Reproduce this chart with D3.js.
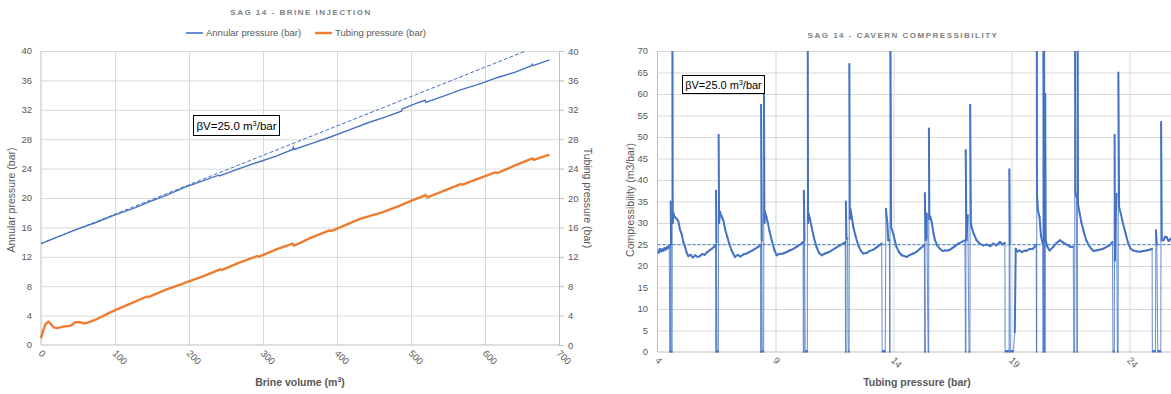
<!DOCTYPE html>
<html>
<head>
<meta charset="utf-8">
<script src="https://cdn.jsdelivr.net/npm/d3@7"></script>
<style>
  body { margin: 0; background: #fff; }
  text { font-family: "Liberation Sans", Arial, sans-serif; fill: #595959; }
</style>
</head>
<body>
<svg id="chart" width="1171" height="394"></svg>
<script>
// ---- left chart: brine injection ----
const volTicks = [0, 100, 200, 300, 400, 500, 600, 700];
const presTicks = [0, 4, 8, 12, 16, 20, 24, 28, 32, 36, 40];

const annularVol = [0, 25, 50, 75, 100, 125, 147, 170, 193, 215, 240, 241, 265, 294, 318, 340, 341, 342, 365, 391, 415, 441, 465, 487, 488, 505, 519, 520, 545, 567, 592, 617, 640, 663, 664, 665, 687];
const annularP = [13.8, 14.8, 15.8, 16.7, 17.7, 18.6, 19.5, 20.4, 21.4, 22.2, 23.1, 23.0, 23.9, 24.9, 25.7, 26.6, 26.9, 26.6, 27.4, 28.3, 29.2, 30.2, 31.0, 31.8, 32.1, 32.8, 33.3, 33.0, 33.9, 34.7, 35.5, 36.4, 37.1, 38.0, 38.2, 38.0, 38.8];

const tubingVol = [0, 3, 6, 10, 13, 17, 22, 30, 39, 43, 46, 53, 57, 62, 75, 93, 102, 120, 143, 145, 168, 193, 195, 218, 242, 244, 268, 292, 294, 318, 340, 342, 365, 390, 392, 432, 460, 486, 488, 505, 520, 522, 545, 567, 569, 590, 614, 617, 640, 664, 666, 687];
const tubingP = [0.9, 2.0, 2.8, 3.2, 2.9, 2.4, 2.3, 2.5, 2.6, 2.8, 3.1, 3.1, 2.95, 3.0, 3.5, 4.4, 4.8, 5.6, 6.6, 6.5, 7.5, 8.4, 8.5, 9.3, 10.3, 10.2, 11.2, 12.1, 12.0, 13.0, 13.8, 13.5, 14.6, 15.6, 15.5, 17.2, 18.0, 19.0, 19.1, 19.8, 20.4, 20.1, 21.0, 21.9, 21.8, 22.6, 23.5, 23.4, 24.4, 25.4, 25.2, 25.9];

// theoretical line for betaV = 25 m3/bar
const fitVol = [0, 655];
const fitP = [13.8, 40];

// ---- right chart: cavern compressibility ----
const tpTicks = [4, 9, 14, 19, 24];
const compTicks = [0, 5, 10, 15, 20, 25, 30, 35, 40, 45, 50, 55, 60, 65, 70];
const betaV = 25;

const compP = [
  4.00, 4.05, 4.10, 4.15, 4.20, 4.25, 4.30, 4.35, 4.40, 4.45, 4.50,
  4.52, 4.55, 4.56, 4.575, 4.58, 4.62, 4.63, 4.645, 4.67, 4.72, 4.80, 4.88, 4.95, 5.02, 5.10, 5.17, 5.24, 5.31, 5.40, 5.50, 5.60, 5.70, 5.80, 5.90, 6.00, 6.08, 6.20, 6.30, 6.40, 6.46,
  6.47, 6.49, 6.48, 6.50, 6.52, 6.58, 6.59, 6.61, 6.65, 6.72, 6.79, 6.87, 6.96, 7.05, 7.14, 7.28, 7.40, 7.50, 7.65, 7.78, 7.90, 8.02, 8.13, 8.25, 8.37,
  8.37, 8.40, 8.39, 8.42, 8.44, 8.50, 8.51, 8.53, 8.55, 8.61, 8.67, 8.75, 8.84, 8.95, 9.05, 9.15, 9.33, 9.45, 9.60, 9.76, 9.90, 10.05, 10.17,
  10.18, 10.21, 10.20, 10.23, 10.26, 10.35, 10.36, 10.38, 10.40, 10.46, 10.53, 10.63, 10.74, 10.85, 10.96, 11.10, 11.25, 11.38, 11.55, 11.73, 11.90, 11.96,
  11.97, 11.99, 11.98, 12.01, 12.05, 12.08, 12.12, 12.13, 12.15, 12.17, 12.23, 12.30, 12.40, 12.51, 12.62, 12.72, 12.85, 13.00, 13.15, 13.30, 13.42, 13.50,
  13.52, 13.65, 13.68, 13.74, 13.78, 13.83, 13.84, 13.85, 13.86, 13.90, 13.99, 14.06, 14.13, 14.24, 14.35, 14.46, 14.56, 14.70, 14.84, 14.98, 15.12, 15.25, 15.31,
  15.32, 15.35, 15.33, 15.36, 15.40, 15.41, 15.47, 15.49, 15.50, 15.52, 15.56, 15.62, 15.70, 15.76, 15.85, 15.97, 16.08, 16.18, 16.30, 16.40, 16.55, 16.65, 16.75, 16.90, 17.03,
  17.05, 17.07, 17.06, 17.09, 17.15, 17.20, 17.24, 17.25, 17.28, 17.31, 17.40, 17.52, 17.65, 17.81, 17.95, 18.10, 18.23, 18.35, 18.51, 18.62, 18.72,
  18.73, 18.90, 18.91, 18.93, 18.95, 19.08, 19.14, 19.18, 19.25, 19.35, 19.45, 19.55, 19.63, 19.75, 19.91, 20.00, 20.05,
  20.06, 20.07, 20.07, 20.08, 20.12, 20.19, 20.25, 20.33, 20.34, 20.35, 20.37, 20.39, 20.40, 20.42, 20.43, 20.45, 20.52, 20.62, 20.76, 20.90, 21.05, 21.18, 21.33, 21.45, 21.54, 21.62,
  21.64, 21.68, 21.69, 21.71, 21.75, 21.78, 21.79, 21.80, 21.82, 21.88, 21.96, 22.06, 22.17, 22.28, 22.38, 22.48, 22.59, 22.73, 22.88, 23.02, 23.16, 23.28,
  23.30, 23.36, 23.37, 23.38, 23.40, 23.45, 23.49, 23.52, 23.53, 23.56, 23.64, 23.73, 23.84, 23.95, 24.05, 24.16, 24.30, 24.44, 24.58, 24.72, 24.86, 24.96,
  24.97, 25.10, 25.12, 25.16, 25.20, 25.33, 25.34, 25.37, 25.44, 25.51, 25.58, 25.66, 25.76, 25.80
];
const compV = [
  23.6, 23.1, 24.0, 23.4, 23.9, 23.5, 24.2, 23.8, 24.4, 24.1, 24.7,
  0, 0, 35, 25, 0, 0, 95, 30, 32.3, 31.5, 31.0, 30.5, 28.5, 27.5, 25.5, 24.4, 23.0, 22.3, 22.6, 22.0, 22.5, 22.1, 22.3, 22.8, 22.6, 23.1, 23.6, 24.0, 24.5, 24.8,
  0, 0, 37.5, 25.5, 0, 0, 50.5, 30, 32.6, 31.5, 30.6, 28.5, 26.7, 25.0, 23.6, 22.1, 22.6, 22.2, 22.7, 22.9, 23.3, 23.6, 24.0, 24.4, 24.8,
  0, 0, 57.5, 26, 0, 0, 62, 30, 32.6, 31.5, 30.2, 28, 26.0, 23.8, 22.5, 22.8, 22.9, 23.2, 23.6, 24.0, 24.5, 25.0, 25.6,
  0, 0, 37.5, 26, 0, 0, 95, 30, 32.2, 31, 29.1, 26.5, 24.4, 23.0, 22.5, 22.9, 23.2, 23.6, 24.2, 24.8, 25.3, 25.6,
  0, 0, 35, 26.4, 26.4, 0, 0, 67, 31, 33.3, 31.5, 29, 26.8, 24.8, 23.5, 22.9, 23.0, 23.5, 23.8, 24.4, 24.9, 25.2,
  0, 0, 33.3, 30, 26, 26, 0, 0, 95, 29, 27.5, 25.8, 24.4, 23.2, 22.5, 22.3, 22.1, 22.6, 22.9, 23.3, 24.0, 24.6, 25.0,
  0, 0, 37, 26, 26.5, 32.2, 0, 0, 52, 31, 31.5, 30.2, 27.5, 26.0, 24.8, 24.0, 23.5, 23.6, 23.6, 23.8, 24.4, 24.8, 25.2, 25.6, 26.0,
  0, 0, 47, 26, 31.8, 0, 0, 57.5, 30, 29, 27.5, 26.0, 25.2, 24.8, 25.0, 24.6, 25.2, 24.8, 25.6, 25.0, 25.4,
  0, 0, 42.5, 25, 0, 0, 4.6, 24.0, 23.4, 23.6, 23.2, 23.6, 23.5, 23.9, 24.0, 24.6, 25.0,
  0, 0, 95, 36.8, 33, 31.4, 27, 25, 0, 95, 26, 0, 95, 0, 60, 26, 24.5, 23.6, 24.4, 25.3, 26.0, 25.5, 25.0, 24.6, 24.4, 24.5,
  0, 0, 95, 37.2, 36, 0, 0, 95, 34.5, 32.5, 30.2, 28, 26, 24.8, 24, 23.5, 23.6, 23.8, 24.0, 24.4, 24.8, 25.6,
  0, 0, 50.5, 21.3, 30, 36.8, 0, 0, 65, 33.7, 32, 29.8, 27.5, 25.2, 24, 23.6, 23.4, 23.3, 23.5, 23.6, 23.8, 24.0,
  0, 0, 28.3, 25, 0, 0, 53.5, 26, 26.0, 26.8, 26.7, 25.8, 26.4, 26.2
];

const blue = "#4472C4", orange = "#ED7D31", grid = "#d9d9d9", axisCol = "#bfbfbf";

let svg = d3.select("#chart");

// ================= LEFT =================
let xL = d3.scaleLinear().domain([0, 700]).range([41, 559]);
let yL = d3.scaleLinear().domain([0, 40]).range([345, 51]);

let gL = svg.append("g");

gL.append("g")
  .attr("transform", "translate(0,345)")
  .call(d3.axisBottom(xL).tickValues(volTicks.slice(1)).tickSize(-294).tickFormat(""))
  .call(g => g.select(".domain").remove())
  .selectAll("line").style("stroke", grid);

gL.append("g")
  .attr("transform", "translate(41,0)")
  .call(d3.axisLeft(yL).tickValues(presTicks.slice(1)).tickSize(-518).tickFormat(""))
  .call(g => g.select(".domain").remove())
  .selectAll("line").style("stroke", grid);

gL.append("line").attr("x1", 41).attr("x2", 559).attr("y1", 345).attr("y2", 345).style("stroke", axisCol);
gL.append("line").attr("x1", 41).attr("x2", 41).attr("y1", 51).attr("y2", 345).style("stroke", axisCol);

// right axis (tubing pressure, same scale)
gL.append("g")
  .attr("transform", "translate(559,0)")
  .call(d3.axisRight(yL).tickValues(presTicks).tickSize(5).tickPadding(4))
  .call(g => g.select(".domain").style("stroke", axisCol))
  .call(g => g.selectAll("line").style("stroke", axisCol))
  .call(g => g.selectAll("text").style("font-size", "9.5px").style("fill", "#595959").style("font-family", "Liberation Sans, Arial"));

// left tick labels
gL.selectAll(".ylab").data(presTicks).enter().append("text")
  .attr("x", 32).attr("y", d => yL(d)).attr("dy", "0.35em")
  .attr("text-anchor", "end").style("font-size", "9.5px")
  .text(d => d);

// bottom tick labels, rotated
gL.selectAll(".xlab").data(volTicks).enter().append("text")
  .attr("transform", d => "translate(" + (xL(d) - 3) + ",354) rotate(45)")
  .attr("text-anchor", "start").style("font-size", "9.5px")
  .text(d => d);

let lineL = d3.line().x(d => xL(d[0])).y(d => yL(d[1]));

gL.append("path").datum(d3.zip(fitVol, fitP))
  .attr("d", lineL).attr("fill", "none")
  .style("stroke", blue).style("stroke-width", 1).style("stroke-dasharray", "4,2");

gL.append("path").datum(d3.zip(tubingVol, tubingP))
  .attr("d", lineL).attr("fill", "none")
  .style("stroke", orange).style("stroke-width", 2.4).style("stroke-linejoin", "round");

gL.append("path").datum(d3.zip(annularVol, annularP))
  .attr("d", lineL).attr("fill", "none")
  .style("stroke", blue).style("stroke-width", 1.4);

// annotation
gL.append("rect").attr("x", 193.5).attr("y", 115.5).attr("width", 86).attr("height", 20)
  .style("fill", "#fff").style("stroke", "#000");
gL.append("text").attr("x", 236.5).attr("y", 129.5).attr("text-anchor", "middle")
  .style("font-size", "11.5px").style("fill", "#000")
  .html("βV=25.0 m<tspan dy='-4' font-size='7.5px'>3</tspan><tspan dy='4'>/bar</tspan>");

// titles
gL.append("text").attr("x", 301).attr("y", 15).attr("text-anchor", "middle")
  .style("font-size", "8px").style("font-weight", "bold").style("letter-spacing", "1.5px").style("fill", "#808080")
  .text("SAG 14 - BRINE INJECTION");

gL.append("text").attr("transform", "translate(15,200) rotate(-90)").attr("text-anchor", "middle")
  .style("font-size", "10.5px").text("Annular pressure (bar)");
gL.append("text").attr("transform", "translate(584,198) rotate(90)").attr("text-anchor", "middle")
  .style("font-size", "10.5px").text("Tubing pressure (bar)");
gL.append("text").attr("x", 300).attr("y", 386).attr("text-anchor", "middle")
  .style("font-size", "10.5px").style("font-weight", "bold")
  .html("Brine volume (m<tspan dy='-4' font-size='7px'>3</tspan><tspan dy='4'>)</tspan>");

// legend
const legend = [
  {name: "Annular pressure (bar)", color: blue, x: 186, w: 1.6},
  {name: "Tubing pressure (bar)", color: orange, x: 315, w: 2.4}
];
let lg = gL.selectAll(".lg").data(legend).enter().append("g")
  .attr("transform", d => "translate(" + d.x + ",33)");
lg.append("line").attr("x1", 0).attr("x2", 17).style("stroke", d => d.color).style("stroke-width", d => d.w);
lg.append("text").attr("x", 20).attr("dy", "0.35em").style("font-size", "9.5px").text(d => d.name);

// ================= RIGHT =================
let xR = d3.scaleLinear().domain([4, 25.76]).range([657.5, 1171]);
let yR = d3.scaleLinear().domain([0, 70]).range([352, 51]);

let gR = svg.append("g");

gR.append("clipPath").attr("id", "clipR").append("rect")
  .attr("x", 657.5).attr("y", 51).attr("width", 514).attr("height", 302);

gR.append("g")
  .attr("transform", "translate(0,352)")
  .call(d3.axisBottom(xR).tickValues(tpTicks.slice(1)).tickSize(-301).tickFormat(""))
  .call(g => g.select(".domain").remove())
  .selectAll("line").style("stroke", grid);

gR.append("g")
  .attr("transform", "translate(657.5,0)")
  .call(d3.axisLeft(yR).tickValues(compTicks.slice(1)).tickSize(-514).tickFormat(""))
  .call(g => g.select(".domain").remove())
  .selectAll("line").style("stroke", grid);

gR.append("line").attr("x1", 657.5).attr("x2", 1171).attr("y1", 352).attr("y2", 352).style("stroke", axisCol);
gR.append("line").attr("x1", 657.5).attr("x2", 657.5).attr("y1", 51).attr("y2", 352).style("stroke", axisCol);

gR.selectAll(".ylab").data(compTicks).enter().append("text")
  .attr("x", 648).attr("y", d => yR(d)).attr("dy", "0.35em")
  .attr("text-anchor", "end").style("font-size", "9.5px")
  .text(d => d);

gR.selectAll(".xlab").data(tpTicks).enter().append("text")
  .attr("transform", d => "translate(" + (xR(d) - 3) + ",361) rotate(45)")
  .attr("text-anchor", "start").style("font-size", "9.5px")
  .text(d => d);

// segments touching zero (logger dropouts) draw thin and light, the rest heavier
let segs = d3.pairs(d3.zip(compP, compV));
gR.append("g").attr("clip-path", "url(#clipR)")
  .selectAll("line").data(segs).enter().append("line")
  .attr("x1", d => xR(d[0][0])).attr("y1", d => yR(d[0][1]))
  .attr("x2", d => xR(d[1][0])).attr("y2", d => yR(d[1][1]))
  .style("stroke", blue)
  .style("stroke-linecap", "round")
  .style("stroke-width", d => (d[0][1] === 0 || d[1][1] === 0) ? 1.1 : 2)
  .style("opacity", d => (d[0][1] === 0 || d[1][1] === 0) ? 0.75 : 1);

// the zero runs themselves sit on the axis, a bit thicker
gR.append("g").attr("clip-path", "url(#clipR)")
  .selectAll("line").data(segs.filter(d => d[0][1] === 0 && d[1][1] === 0)).enter().append("line")
  .attr("x1", d => xR(d[0][0])).attr("y1", d => yR(0) - 1)
  .attr("x2", d => xR(d[1][0])).attr("y2", d => yR(0) - 1)
  .style("stroke", blue).style("stroke-width", 2);

gR.append("line")
  .attr("x1", xR(4)).attr("x2", 1171).attr("y1", yR(betaV)).attr("y2", yR(betaV))
  .style("stroke", "#4a8ccf").style("stroke-width", 1.1).style("stroke-dasharray", "3,2");

gR.append("rect").attr("x", 682.5).attr("y", 75.5).attr("width", 82).attr("height", 18)
  .style("fill", "#fff").style("stroke", "#000");
gR.append("text").attr("x", 723.5).attr("y", 88.5).attr("text-anchor", "middle")
  .style("font-size", "11px").style("fill", "#000")
  .html("βV=25.0 m<tspan dy='-4' font-size='7px'>3</tspan><tspan dy='4'>/bar</tspan>");

gR.append("text").attr("x", 903).attr("y", 38).attr("text-anchor", "middle")
  .style("font-size", "8px").style("font-weight", "bold").style("letter-spacing", "1.5px").style("fill", "#808080")
  .text("SAG 14 - CAVERN COMPRESSIBILITY");

gR.append("text").attr("transform", "translate(634,200) rotate(-90)").attr("text-anchor", "middle")
  .style("font-size", "10.5px").text("Compressibility (m3/bar)");
gR.append("text").attr("x", 917).attr("y", 386).attr("text-anchor", "middle")
  .style("font-size", "10.5px").style("font-weight", "bold")
  .text("Tubing pressure (bar)");
</script>
</body>
</html>
